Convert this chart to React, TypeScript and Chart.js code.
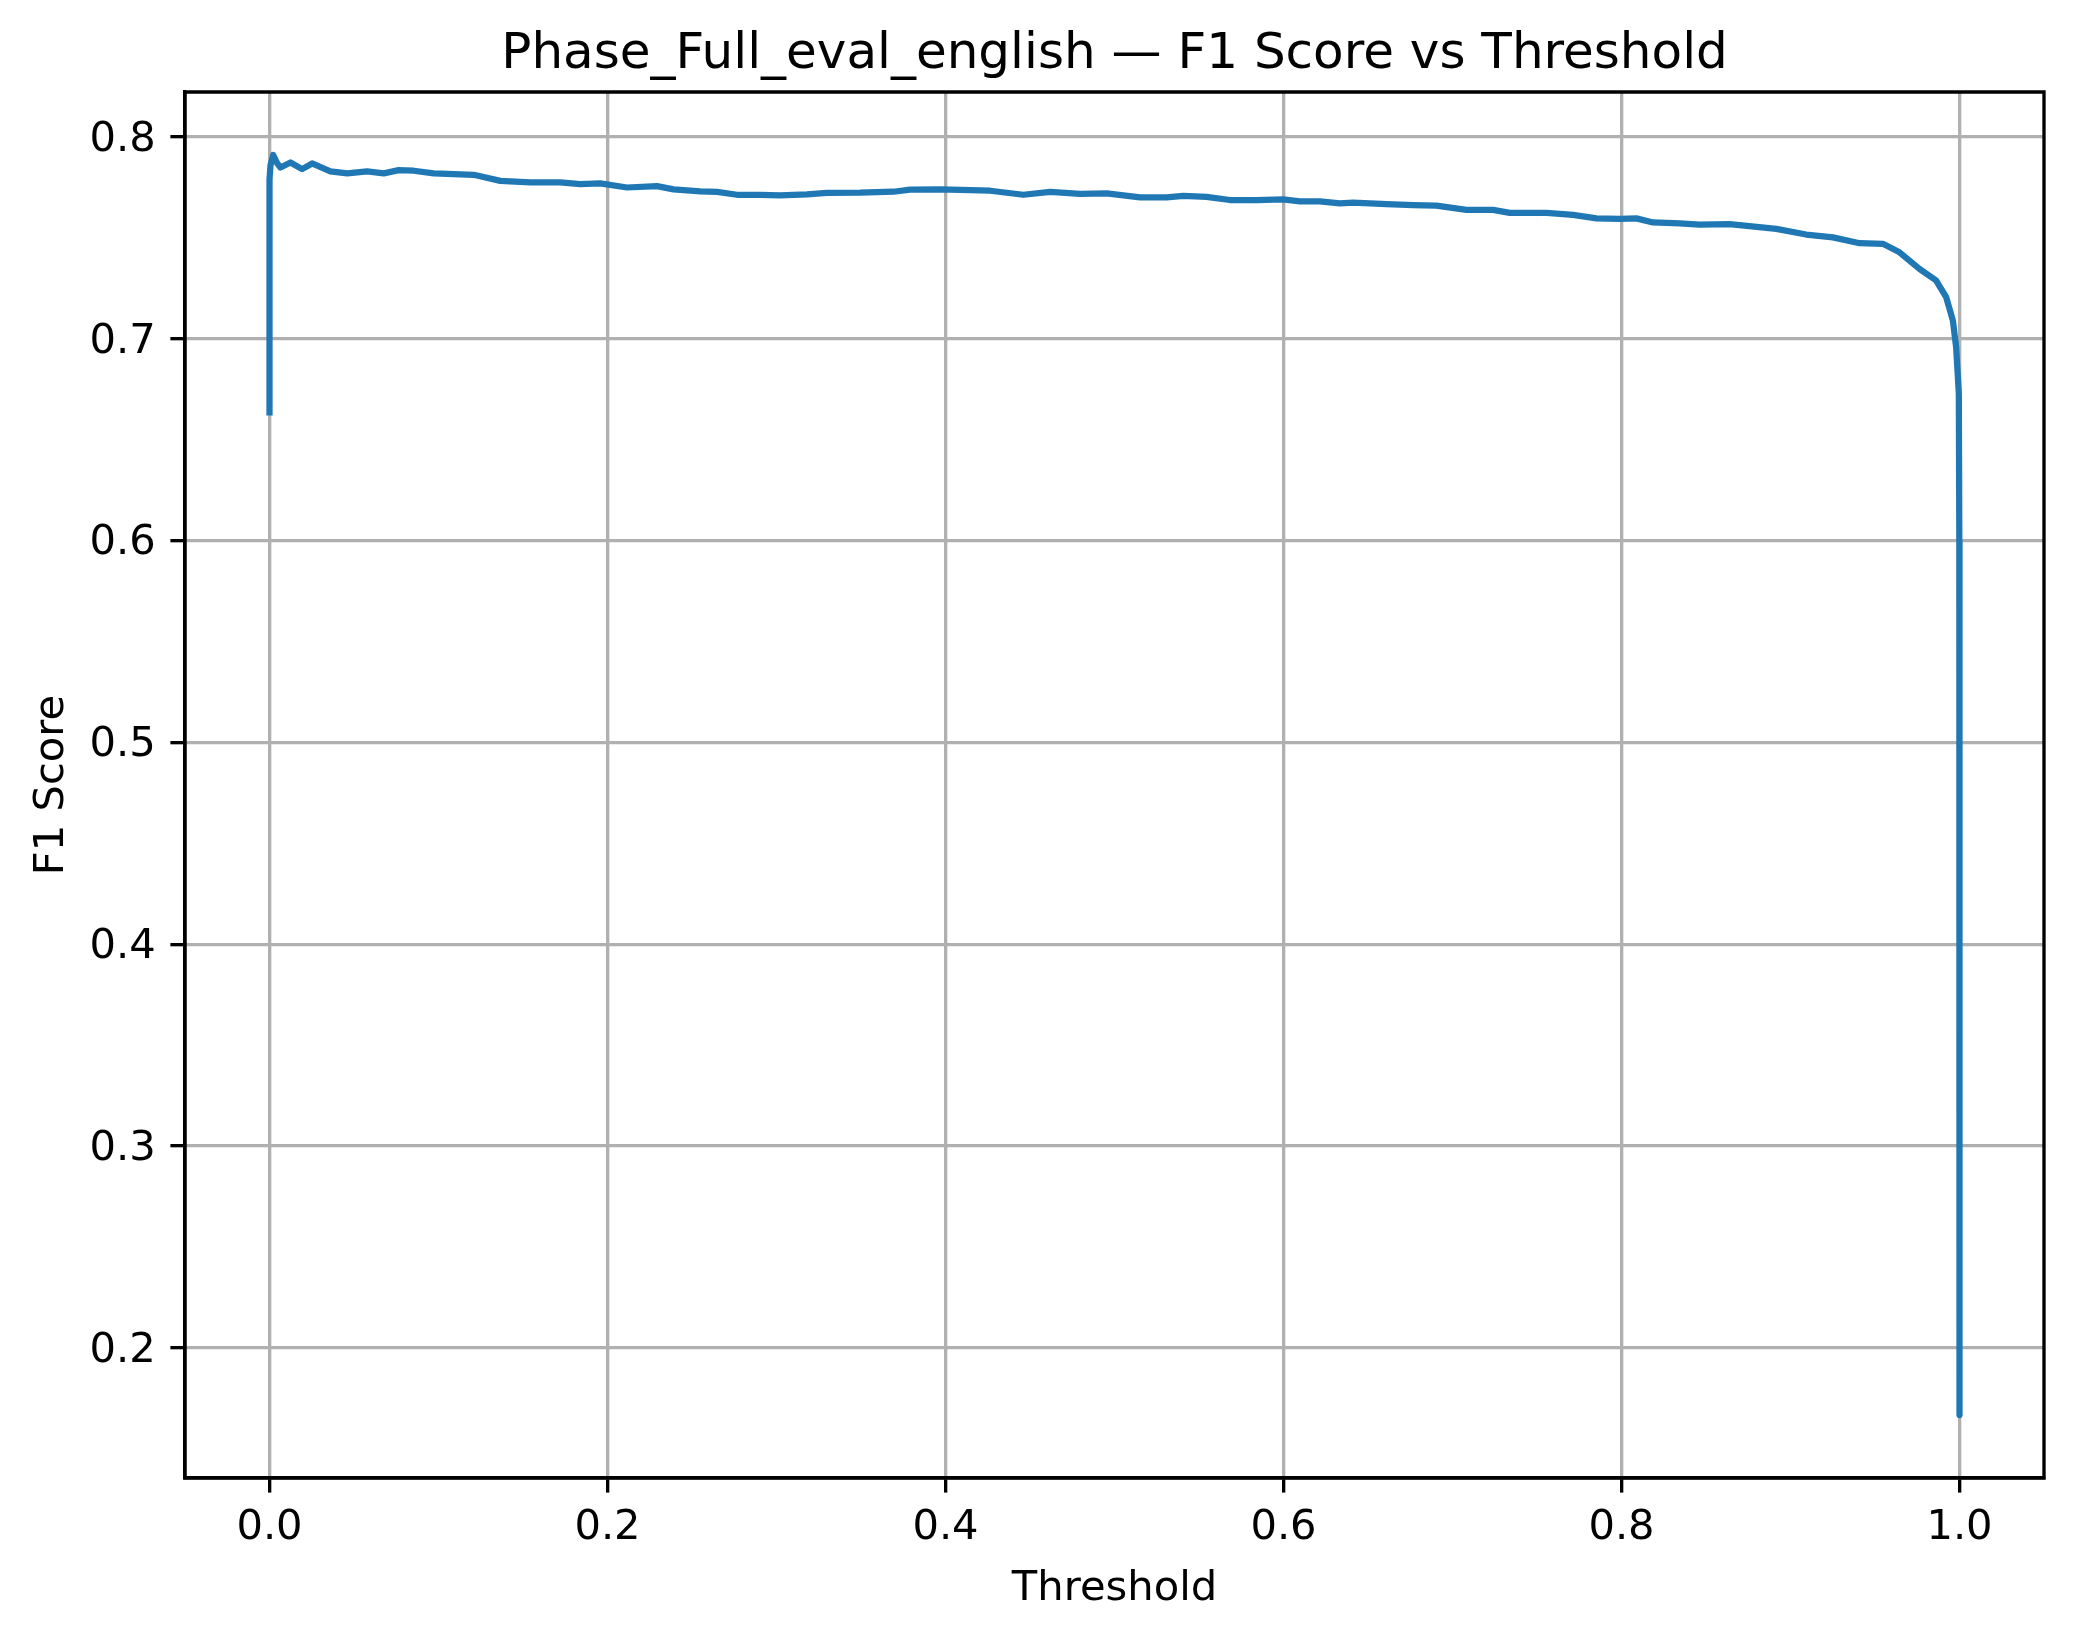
import React, { useEffect, useRef } from "react";
import { Chart, registerables } from "chart.js";

Chart.register(...registerables);

const TITLE = "Phase_Full_eval_english — F1 Score vs Threshold";
const X_LABEL = "Threshold";
const Y_LABEL = "F1 Score";

const thresholds = [
  0.0, 0.0, 0.0006, 0.0022, 0.0045, 0.0065, 0.0124, 0.0193, 0.0252, 0.036,
  0.046, 0.0578, 0.0676, 0.0765, 0.0853, 0.0972, 0.1208, 0.1366, 0.1543, 0.1721,
  0.1839, 0.1957, 0.2115, 0.2293, 0.2391, 0.2549, 0.2648, 0.2766, 0.2904, 0.3022,
  0.318, 0.3298, 0.3495, 0.3692, 0.3791, 0.3968, 0.4264, 0.4461, 0.4619, 0.4796,
  0.4954, 0.5151, 0.5309, 0.5407, 0.5545, 0.5683, 0.5841, 0.5998, 0.6097, 0.6215,
  0.6334, 0.6412, 0.661, 0.6767, 0.6905, 0.7083, 0.724, 0.7339, 0.7556, 0.7713,
  0.7852, 0.7989, 0.8088, 0.8186, 0.8344, 0.8462, 0.864, 0.8916, 0.9093, 0.9251,
  0.9409, 0.9547, 0.9645, 0.9763, 0.9862, 0.9921, 0.9961, 0.998, 0.9996, 0.9999,
  1.0,
];

const f1Scores = [
  0.662, 0.779, 0.786, 0.791, 0.787, 0.7848, 0.7873, 0.784, 0.7868, 0.7829,
  0.7819, 0.7829, 0.7819, 0.7835, 0.7832, 0.7819, 0.7812, 0.7782, 0.7774, 0.7774,
  0.7766, 0.7769, 0.7749, 0.7756, 0.774, 0.773, 0.7727, 0.7713, 0.7713, 0.771,
  0.7715, 0.7722, 0.7723, 0.7728, 0.7738, 0.774, 0.7733, 0.7713, 0.7727, 0.7717,
  0.772, 0.77, 0.77, 0.7708, 0.7703, 0.7687, 0.7687, 0.769, 0.768, 0.768,
  0.767, 0.7674, 0.7667, 0.7662, 0.7659, 0.7638, 0.7638, 0.7623, 0.7623, 0.7613,
  0.7596, 0.7593, 0.7596, 0.7576, 0.7571, 0.7565, 0.7568, 0.7544, 0.7516, 0.7502,
  0.7473, 0.747, 0.7428, 0.7346, 0.7288, 0.7206, 0.709, 0.6958, 0.6728, 0.6,
  0.1668,
];

const xTickStep = 0.2;
const yTickStep = 0.1;

const W = 2074;
const H = 1638;
const FONT = "'DejaVu Sans', 'Liberation Sans', sans-serif";
const LW = 3.33;

export default function App() {
  const ref = useRef<HTMLCanvasElement | null>(null);

  useEffect(() => {
    if (!ref.current) return;
    const xMinD = Math.min(...thresholds);
    const xMaxD = Math.max(...thresholds);
    const xr = xMaxD - xMinD;
    const yMinD = Math.min(...f1Scores);
    const yMaxD = Math.max(...f1Scores);
    const yr = yMaxD - yMinD;

    const framePlugin = {
      id: "frame",
      afterDraw(chart: any) {
        const { ctx, chartArea } = chart;
        const { left, right, top, bottom } = chartArea;
        ctx.save();
        ctx.strokeStyle = "#000";
        ctx.lineWidth = LW;
        ctx.lineCap = "square";
        ctx.beginPath();
        ctx.moveTo(left, top);
        ctx.lineTo(right, top);
        ctx.lineTo(right, bottom);
        ctx.lineTo(left, bottom);
        ctx.lineTo(left, top);
        ctx.stroke();

        ctx.fillStyle = "#000";
        const cx = (left + right) / 2;
        ctx.textAlign = "center";
        ctx.textBaseline = "alphabetic";
        ctx.font = `50px ${FONT}`;
        ctx.fillText(TITLE, cx, 68);
        ctx.font = `41.67px ${FONT}`;
        ctx.fillText(X_LABEL, cx, 1600);
        ctx.translate(63, (top + bottom) / 2);
        ctx.rotate(-Math.PI / 2);
        ctx.fillText(Y_LABEL, 0, 0);
        ctx.restore();
      },
    };

    const chart = new Chart(ref.current, {
      type: "line",
      data: {
        datasets: [
          {
            data: thresholds.map((t, i) => ({ x: t, y: f1Scores[i] })),
            borderColor: "#1f77b4",
            borderWidth: 6.25,
            pointRadius: 0,
            tension: 0,
            fill: false,
            borderJoinStyle: "round",
            borderCapStyle: "butt",
          },
        ],
      },
      options: {
        responsive: false,
        animation: false,
        devicePixelRatio: 1,
        layout: { padding: { left: 0, top: 92, right: 30, bottom: 0 } },
        plugins: {
          legend: { display: false },
          tooltip: { enabled: false },
          title: { display: false },
        },
        scales: {
          x: {
            type: "linear",
            min: xMinD - 0.05 * xr,
            max: xMaxD + 0.05 * xr,
            afterFit: (s: any) => {
              s.height = 160;
            },
            grid: {
              color: "#b0b0b0",
              lineWidth: LW,
              tickColor: "#000",
              tickWidth: LW,
              tickLength: 14.6,
              drawTicks: true,
            },
            border: { display: true, color: "#000", width: LW },
            ticks: {
              stepSize: xTickStep,
              includeBounds: false,
              color: "#000",
              padding: 11,
              maxRotation: 0,
              autoSkip: false,
              font: { family: FONT, size: 41.67 },
              callback: (v: any) => Number(v).toFixed(1),
            },
          },
          y: {
            type: "linear",
            min: yMinD - 0.05 * yr,
            max: yMaxD + 0.05 * yr,
            afterFit: (s: any) => {
              s.width = 185;
            },
            grid: {
              color: "#b0b0b0",
              lineWidth: LW,
              tickColor: "#000",
              tickWidth: LW,
              tickLength: 14.6,
              drawTicks: true,
            },
            border: { display: true, color: "#000", width: LW },
            ticks: {
              stepSize: yTickStep,
              includeBounds: false,
              color: "#000",
              padding: 14.6,
              labelOffset: 3,
              autoSkip: false,
              font: { family: FONT, size: 41.67 },
              callback: (v: any) => Number(v).toFixed(1),
            },
          },
        },
      },
      plugins: [framePlugin],
    } as any);

    return () => chart.destroy();
  }, []);

  return (
    <div style={{ position: "absolute", left: 0, top: 0, width: W, height: H, background: "#fff" }}>
      <canvas ref={ref} width={W} height={H} style={{ width: W, height: H, display: "block" }} />
    </div>
  );
}
